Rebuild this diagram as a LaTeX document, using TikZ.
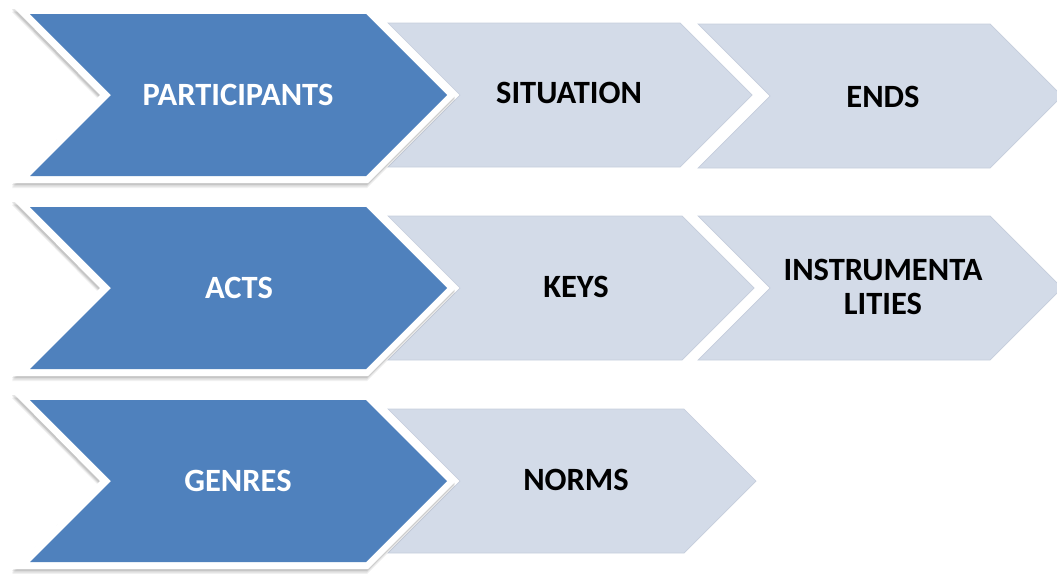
\documentclass[tikz,border=0pt]{standalone}
\usepackage{fontspec}
\setmainfont{Carlito}
\definecolor{chevblue}{HTML}{4F81BD}
\definecolor{chevpale}{HTML}{D3DBE8}
\definecolor{chevedge}{HTML}{C6CEDC}
\begin{document}
\begin{tikzpicture}[x=1pt,y=-1pt,
  chevtext/.style={font=\fontsize{32.5}{34}\selectfont\bfseries, align=center, inner sep=0pt},
  darktext/.style={chevtext, text=white},
  palebody/.style={fill=chevpale, draw=chevedge, line width=0.7pt, line join=miter},
  bluebody/.style={fill=chevblue},
  whiterim/.style={fill=white}]
\useasboundingbox (0,0) rectangle (1057,573);
\clip (0,0) rectangle (1057,573);

% pale chevron: left x, top-right corner x, middle y
\newcommand\paleChevron[3]{%
  \path[palebody] (#1,{#3-72}) -- (#2,{#3-72}) -- ({#2+72},#3) -- (#2,{#3+72})
     -- (#1,{#3+72}) -- ({#1+72},#3) -- cycle;}

% dark chevron with white rim and soft shadow: middle y
\newcommand\darkChevron[1]{%
  \foreach \s/\o in {5/0.06,3.5/0.08,2/0.10}{%
    \path[fill=black, opacity=\o, yshift=-\s pt, xshift=-1pt]
      (13,{#1-88}) -- (368,{#1-88}) -- (456,#1) -- (368,{#1+88})
      -- (13,{#1+88}) -- (100,#1) -- cycle;}
  \path[whiterim] (13,{#1-88}) -- (368,{#1-88}) -- (456,#1) -- (368,{#1+88})
     -- (13,{#1+88}) -- (100,#1) -- cycle;
  \path[bluebody] (30,{#1-81}) -- (366,{#1-81}) -- (447,#1) -- (366,{#1+81})
     -- (30,{#1+81}) -- (111,#1) -- cycle;}

% row 1
\paleChevron{698}{990}{96}
\paleChevron{388}{680}{95}
\darkChevron{95}
% row 2
\paleChevron{698}{990}{288}
\paleChevron{388}{682}{288}
\darkChevron{288}
% row 3
\paleChevron{388}{684}{481}
\darkChevron{481}

\node[darktext] (participants) at (238,95) {PARTICIPANTS};
\node[chevtext] (situation) at (569,93) {SITUATION};
\node[chevtext] (ends) at (883,97) {ENDS};

\node[darktext] (acts) at (239,288) {ACTS};
\node[chevtext] (keys) at (576,287) {KEYS};
\node[chevtext] (instr) at (883,287) {INSTRUMENTA\\LITIES};

\node[darktext] (genres) at (238,481) {GENRES};
\node[chevtext] (norms) at (576,480) {NORMS};
\end{tikzpicture}
\end{document}
